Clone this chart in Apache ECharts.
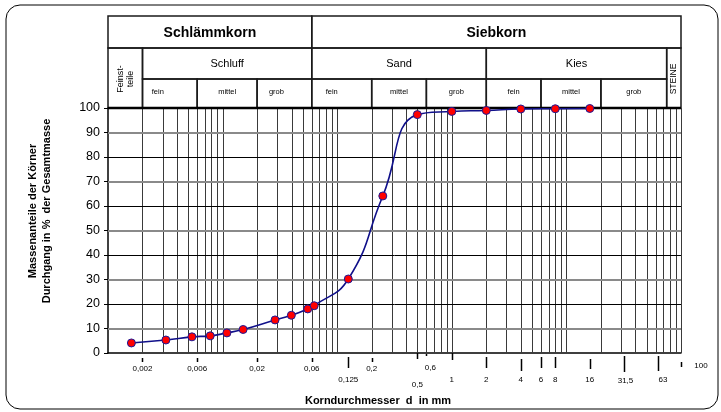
<!DOCTYPE html>
<html><head><meta charset="utf-8">
<script src="https://cdn.jsdelivr.net/npm/echarts@6/dist/echarts.min.js"></script>
<style>html,body{margin:0;padding:0;background:#fff}#c{width:721px;height:412px}</style>
</head><body><div id="c"></div>
<script>
// ---------- data ----------
const grainSize = [0.0016, 0.0032, 0.0054, 0.0078, 0.0109, 0.0151, 0.0287, 0.0398, 0.0553, 0.063, 0.125, 0.25, 0.5, 1, 2, 4, 8, 16];
const passing   = [4.1, 5.3, 6.6, 7.0, 8.2, 9.6, 13.5, 15.4, 18.0, 19.3, 30.2, 64.1, 97.3, 98.6, 99.0, 99.6, 99.7, 99.8];

const tickValues = [0.002, 0.006, 0.02, 0.06, 0.125, 0.2, 0.5, 0.6, 1, 2, 4, 6, 8, 16, 31.5, 63, 100];
const tickLabels = ['0,002', '0,006', '0,02', '0,06', '0,125', '0,2', '0,5', '0,6', '1', '2', '4', '6', '8', '16', '31,5', '63', '100'];

const headerRow1 = [['Schlämmkorn', 0.001, 0.06], ['Siebkorn', 0.06, 100]];
const headerRow2 = [['Schluff', 0.002, 0.06], ['Sand', 0.06, 2], ['Kies', 2, 75]];
const headerRow3 = [['fein', 0.002, 0.006], ['mittel', 0.006, 0.02], ['grob', 0.02, 0.06],
                    ['fein', 0.06, 0.2], ['mittel', 0.2, 0.6], ['grob', 0.6, 2],
                    ['fein', 2, 6], ['mittel', 6, 20], ['grob', 20, 75]];
const headerSide = [['Feinst-\nteile', 0.001, 0.002], ['STEINE', 75, 100]];

const yTitle = 'Massenanteile der Körner\nDurchgang in %  der Gesamtmasse';
const xTitle = 'Korndurchmesser  d  in mm';

// ---------- styles ----------
const FONT = '"Liberation Sans", Arial, sans-serif';
const A = {t: [5, 9], ly: 16, dx: 0};
const B = {t: [4, 15], ly: 27, dx: 0};
const tickStyle = [A, A, A, A, B, A, {t: [0, 6], ly: 32, dx: 0}, {t: [1, 3], ly: 15, dx: 4},
                   {t: [0, 7], ly: 27, dx: 0}, B, {t: [6, 18], ly: 27, dx: 0}, B, B, {t: [6, 16], ly: 27, dx: 0},
                   {t: [3, 19], ly: 28, dx: 2}, {t: [3, 18], ly: 27, dx: 5}, {t: [9, 14], ly: 13, dx: 20}];
const row3Dx = [-12, 0, -8, -10, 0, 0, 0, 0, 0];
const sideFont = [9, 8.5];

// vertical log grid values (axis structure)
const gridX = [];
for (let k = -3; k <= 1; k++) {
  for (let m = 1; m <= 9; m++) {
    const v = +(m * Math.pow(10, k)).toPrecision(3);
    if (v > 0.001) gridX.push(v);
  }
}
gridX.push(100);
const gridY = [10, 20, 30, 40, 50, 60, 70, 80, 90, 100];

const chart = echarts.init(document.getElementById('c'), null, {renderer: 'canvas'});

const option = {
  animation: false,
  backgroundColor: '#fff',
  grid: {left: 108, right: 40, top: 108, bottom: 59},
  xAxis: {
    type: 'log', logBase: 10, min: 0.001, max: 100,
    axisLine: {show: true, lineStyle: {color: '#000', width: 1.5}},
    axisTick: {show: false}, axisLabel: {show: false}, splitLine: {show: false}
  },
  yAxis: {
    type: 'value', min: 0, max: 100, interval: 10,
    axisLine: {show: true, lineStyle: {color: '#000', width: 1.5}},
    axisTick: {show: true, inside: false, length: 4, lineStyle: {color: '#000'}},
    axisLabel: {fontSize: 12.5, color: '#000', margin: 8, fontFamily: FONT},
    splitLine: {show: false}
  },
  series: [
    {
      type: 'custom', z: 1, silent: true,
      data: gridX.map(v => [v, 0]),
      renderItem: (params, api) => {
        const v = api.value(0);
        const p1 = api.coord([v, 0]), p2 = api.coord([v, 100]);
        const x = Math.round(p1[0]) + 0.5;
        return {type: 'line', shape: {x1: x, y1: p1[1], x2: x, y2: p2[1]},
                style: {stroke: '#3a3a3a', lineWidth: 1}};
      }
    },
    {
      type: 'custom', z: 2, silent: true,
      data: gridY.map(v => [0.001, v]),
      renderItem: (params, api) => {
        const v = api.value(1);
        const p1 = api.coord([0.001, v]), p2 = api.coord([100, v]);
        let stroke = '#000', w = 1, y = Math.round(p1[1]) + 0.5;
        if (v === 100) { w = 2.5; y = Math.round(p1[1]); }
        else if (v % 20 === 10) { stroke = '#8a8a8a'; w = 2; y = Math.round(p1[1]); }
        return {type: 'line', shape: {x1: p1[0], y1: y, x2: p2[0], y2: y},
                style: {stroke: stroke, lineWidth: w}};
      }
    },
    {
      type: 'line', z: 5,
      data: grainSize.map((g, i) => [g, passing[i]]),
      smooth: 0.5,
      symbol: 'circle', symbolSize: 8,
      itemStyle: {color: '#ff0000', borderColor: '#1a1a9a', borderWidth: 1},
      lineStyle: {color: '#10108a', width: 1.6}
    }
  ]
};
chart.setOption(option);

const px = v => chart.convertToPixel({xAxisIndex: 0}, v);
const py = v => chart.convertToPixel({yAxisIndex: 0}, v);

const Y0 = 16, Y1 = 48, Y2 = 79, Y3 = py(100);
const y0axis = py(0);
const g = [];
const LC = '#1a1a1a', LW = 1.5;

function cell(a, b, top, bottom) {
  g.push({type: 'rect', shape: {x: px(a), y: top, width: px(b) - px(a), height: bottom - top},
          style: {fill: null, stroke: LC, lineWidth: LW}, silent: true});
}
function text(str, x, y, opts) {
  g.push(Object.assign({type: 'text', x: x, y: y, silent: true,
    style: Object.assign({text: str, fill: '#000', align: 'center', verticalAlign: 'middle',
      fontFamily: FONT}, opts.style || {})}, opts.el || {}));
}

// frame
g.push({type: 'rect', shape: {x: 6, y: 5, width: 712, height: 404, r: 14},
        style: {fill: null, stroke: '#000', lineWidth: 1}, silent: true, z: -1});

headerRow1.forEach(([t, a, b]) => {
  cell(a, b, Y0, Y1);
  text(t, (px(a) + px(b)) / 2, (Y0 + Y1) / 2 + 1, {style: {fontSize: 14, fontWeight: 'bold'}});
});
headerRow2.forEach(([t, a, b]) => {
  cell(a, b, Y1, Y2);
  text(t, (px(a) + px(b)) / 2, (Y1 + Y2) / 2, {style: {fontSize: 11}});
});
headerRow3.forEach(([t, a, b], i) => {
  cell(a, b, Y2, Y3);
  text(t, (px(a) + px(b)) / 2 + row3Dx[i], (Y2 + Y3) / 2 - 2, {style: {fontSize: 7.5}});
});
headerSide.forEach(([t, a, b], i) => {
  cell(a, b, Y1, Y3);
  text(t, (px(a) + px(b)) / 2, (Y1 + Y3) / 2 + 1,
       {style: {fontSize: sideFont[i], lineHeight: 10}, el: {rotation: Math.PI / 2}});
});

// bottom ticks and labels
tickValues.forEach((v, i) => {
  const s = tickStyle[i];
  const x = Math.round(px(v)) + 0.5;
  g.push({type: 'line', shape: {x1: x, y1: y0axis + s.t[0], x2: x, y2: y0axis + s.t[1]},
          style: {stroke: '#000', lineWidth: 1.5}, silent: true});
  text(tickLabels[i], px(v) + s.dx, y0axis + s.ly, {style: {fontSize: 8}});
});

// axis titles
text(yTitle, 40, 211, {style: {fontSize: 11, fontWeight: 'bold', lineHeight: 14},
                       el: {rotation: Math.PI / 2}});
text(xTitle, 378, 401, {style: {fontSize: 11, fontWeight: 'bold'}});

chart.setOption({graphic: {elements: g}});
</script>
</body></html>
